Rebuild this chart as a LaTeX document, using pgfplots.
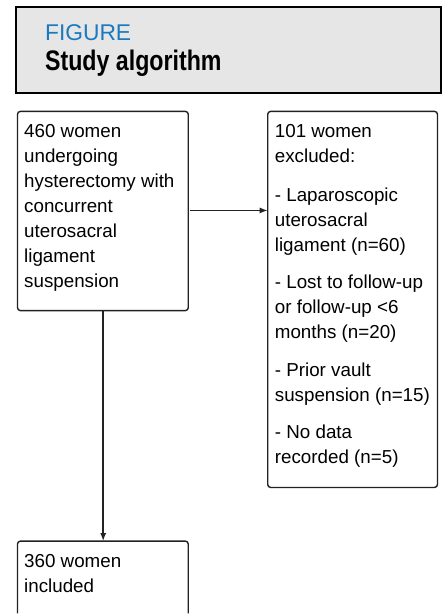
\documentclass[border=0pt]{standalone}
\usepackage{pgfplots}
\pgfplotsset{compat=1.18}
\usetikzlibrary{arrows.meta}
\usepackage{fontspec}
\setmainfont{Liberation Sans}
\newfontfamily\condbold[FakeStretch=0.82,UprightFont=* Bold]{Liberation Sans}
\definecolor{figblue}{HTML}{1A7ABF}
\definecolor{hdrgray}{HTML}{E6E6E6}
\definecolor{boxline}{HTML}{222222}
\begin{document}
\begin{tikzpicture}
\begin{axis}[scale only axis, width=443bp, height=614bp,
  xmin=0, xmax=443, ymin=0, ymax=614, y dir=reverse, hide axis, clip=false]
\path[fill=white] (axis cs:0,0) rectangle (axis cs:443,614);
% header
\draw[line width=2bp, fill=hdrgray] (axis cs:16,7) rectangle (axis cs:441,93);
\node[anchor=base west, inner sep=0pt, text=figblue, font=\fontsize{22.8bp}{26bp}\selectfont] at (axis cs:45,40.7) {FIGURE};
\node[anchor=base west, inner sep=0pt, font=\fontsize{28.3bp}{32bp}\condbold] at (axis cs:45,71) {Study algorithm};
% boxes
\draw[boxline, line width=1.4bp, rounded corners=3bp] (axis cs:17.5,111.5) rectangle (axis cs:188.5,311);
\draw[boxline, line width=1.4bp, rounded corners=3bp] (axis cs:268,111.5) rectangle (axis cs:438,488);
\draw[boxline, line width=1.4bp, rounded corners=3bp] (axis cs:17.5,614) -- (axis cs:17.5,541.7) -- (axis cs:188.5,541.7) -- (axis cs:188.5,614);
% arrows
\draw[boxline, line width=1.4bp, -{Latex[length=8bp,width=6bp]}] (axis cs:190,210.7) -- (axis cs:268,210.7);
\draw[boxline, line width=1.4bp, -{Latex[length=8bp,width=6bp]}] (axis cs:103.3,311) -- (axis cs:103.3,541.7);
% box 1 text
\begin{scope}[every node/.style={anchor=base west, inner sep=0pt, text=black, font=\fontsize{18.8bp}{25bp}\selectfont}]
\node at (axis cs:24,137.8) {460 women};
\node at (axis cs:24,162.8) {undergoing};
\node at (axis cs:24,187.8) {hysterectomy with};
\node at (axis cs:24,212.8) {concurrent};
\node at (axis cs:24,237.8) {uterosacral};
\node at (axis cs:24,262.8) {ligament};
\node at (axis cs:24,287.8) {suspension};
% box 2 text
\node at (axis cs:275,137.8) {101 women};
\node at (axis cs:275,162.8) {excluded:};
\node at (axis cs:275,201.5) {- Laparoscopic};
\node at (axis cs:275,226.5) {uterosacral};
\node at (axis cs:275,251.5) {ligament (n=60)};
\node at (axis cs:275,289) {- Lost to follow-up};
\node at (axis cs:275,314) {or follow-up <6};
\node at (axis cs:275,338.5) {months (n=20)};
\node at (axis cs:275,376.8) {- Prior vault};
\node at (axis cs:275,401.8) {suspension (n=15)};
\node at (axis cs:275,438.8) {- No data};
\node at (axis cs:275,463.8) {recorded (n=5)};
% box 3 text
\node at (axis cs:24,568.2) {360 women};
\node at (axis cs:24,593.2) {included};
\end{scope}
\end{axis}
\end{tikzpicture}
\end{document}
